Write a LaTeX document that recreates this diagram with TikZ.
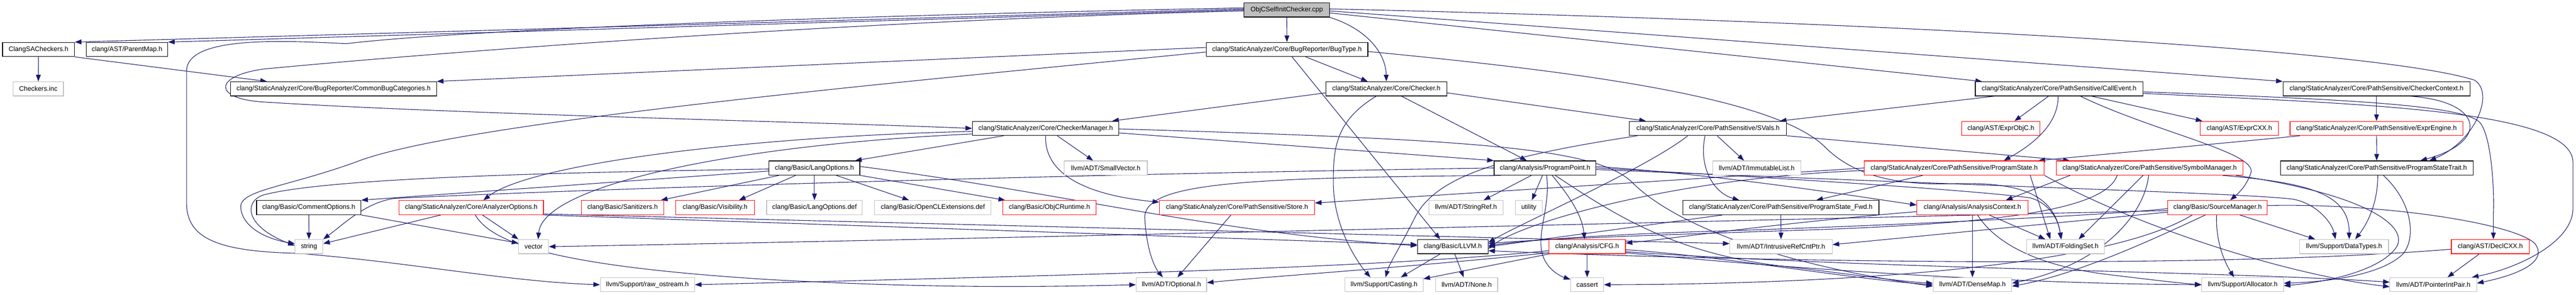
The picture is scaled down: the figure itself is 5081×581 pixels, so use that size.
\documentclass[tikz,border=0pt]{standalone}
\usepackage{fontspec}
\setmainfont{Liberation Sans}
\usetikzlibrary{arrows.meta,backgrounds}
\definecolor{edgec}{HTML}{191970}
\definecolor{grayb}{HTML}{BFBFBF}
\definecolor{rootfill}{HTML}{BFBFBF}
\definecolor{redb}{HTML}{FF0000}
\newcommand\nd[6]{\pgfmathsetmacro\ndw{#3-#2}\pgfmathsetmacro\ndx{(#2+#3)/2}\node[#5, minimum width=\ndw pt] (#1) at (\ndx,#4) {#6};}
\tikzset{
 nbase/.style={rectangle, inner sep=0pt, minimum height=28pt, line width=1.2pt, fill=white, font=\fontsize{13.1pt}{15pt}\selectfont, text=black},
 blk/.style={nbase, draw=black},
 gry/.style={nbase, draw=grayb},
 redst/.style={nbase, draw=redb},
 rootst/.style={nbase, draw=black, fill=rootfill},
 dep/.style={draw=edgec, line width=1.1pt, -{Triangle[length=13pt,width=9.5pt]}},
}
\begin{document}
\begin{tikzpicture}[x=1pt,y=-1pt]
\useasboundingbox (0,0) rectangle (5081,581);
% row 0
\nd{root}{2454}{2622}{19.5}{rootst}{ObjCSelfInitChecker.cpp}
% row 1
\nd{clangsa}{5}{147}{97.5}{blk}{ClangSACheckers.h}
\nd{parentmap}{170}{331}{97.5}{blk}{clang/AST/ParentMap.h}
\nd{bugtype}{2379}{2698}{97.5}{blk}{clang/StaticAnalyzer/Core/BugReporter/BugType.h}
% row 2
\nd{checkersinc}{26}{125}{175}{gry}{Checkers.inc}
\nd{commonbug}{455}{861}{175}{blk}{clang/StaticAnalyzer/Core/BugReporter/CommonBugCategories.h}
\nd{checker}{2615}{2854}{175}{blk}{clang/StaticAnalyzer/Core/Checker.h}
\nd{callevent}{3896}{4227}{175}{blk}{clang/StaticAnalyzer/Core/PathSensitive/CallEvent.h}
\nd{checkerctx}{4503}{4872}{175}{blk}{clang/StaticAnalyzer/Core/PathSensitive/CheckerContext.h}
% row 3
\nd{checkermgr}{1918}{2207}{253}{blk}{clang/StaticAnalyzer/Core/CheckerManager.h}
\nd{svals}{3214}{3524}{253}{blk}{clang/StaticAnalyzer/Core/PathSensitive/SVals.h}
\nd{exprobjc}{3869}{4024}{253}{redst}{clang/AST/ExprObjC.h}
\nd{exprcxx}{4340}{4494}{253}{redst}{clang/AST/ExprCXX.h}
\nd{exprengine}{4517}{4858}{253}{redst}{clang/StaticAnalyzer/Core/PathSensitive/ExprEngine.h}
% row 4
\nd{langopts}{1517}{1696}{331}{blk}{clang/Basic/LangOptions.h}
\nd{smallvec}{2099}{2263}{331}{gry}{llvm/ADT/SmallVector.h}
\nd{progpoint}{2947}{3148}{331}{blk}{clang/Analysis/ProgramPoint.h}
\nd{immlist}{3378}{3552}{331}{gry}{llvm/ADT/ImmutableList.h}
\nd{progstate}{3677}{4032}{331}{redst}{clang/StaticAnalyzer/Core/PathSensitive/ProgramState.h}
\nd{symmgr}{4056}{4424}{331}{redst}{clang/StaticAnalyzer/Core/PathSensitive/SymbolManager.h}
\nd{pstrait}{4498}{4878}{331}{blk}{clang/StaticAnalyzer/Core/PathSensitive/ProgramStateTrait.h}
% row 5
\nd{commentopts}{506}{712}{409}{blk}{clang/Basic/CommentOptions.h}
\nd{anaopts}{787}{1072}{409}{redst}{clang/StaticAnalyzer/Core/AnalyzerOptions.h}
\nd{sanitizers}{1147}{1309}{409}{redst}{clang/Basic/Sanitizers.h}
\nd{visibility}{1333}{1488}{409}{redst}{clang/Basic/Visibility.h}
\nd{langdef}{1512}{1701}{409}{gry}{clang/Basic/LangOptions.def}
\nd{opencl}{1725}{1955}{409}{gry}{clang/Basic/OpenCLExtensions.def}
\nd{objcrt}{1978}{2162}{409}{redst}{clang/Basic/ObjCRuntime.h}
\nd{store}{2287}{2593}{409}{redst}{clang/StaticAnalyzer/Core/PathSensitive/Store.h}
\nd{stringref}{2818}{2965}{409}{gry}{llvm/ADT/StringRef.h}
\nd{utility}{2989}{3042}{409}{gry}{utility}
\nd{psfwd}{3319}{3706}{409}{blk}{clang/StaticAnalyzer/Core/PathSensitive/ProgramState\_Fwd.h}
\nd{anactx}{3781}{4000}{409}{redst}{clang/Analysis/AnalysisContext.h}
\nd{srcmgr}{4276}{4472}{409}{redst}{clang/Basic/SourceManager.h}
% row 6
\nd{string}{582}{637}{486}{gry}{string}
\nd{vector}{1023}{1082}{486}{gry}{vector}
\nd{llvmh}{2796}{2935}{486}{blk}{clang/Basic/LLVM.h}
\nd{cfg}{3055}{3206}{486}{redst}{clang/Analysis/CFG.h}
\nd{intrusive}{3412}{3614}{486}{gry}{llvm/ADT/IntrusiveRefCntPtr.h}
\nd{foldingset}{3997}{4151}{486}{gry}{llvm/ADT/FoldingSet.h}
\nd{datatypes}{4536}{4711}{486}{gry}{llvm/Support/DataTypes.h}
\nd{declcxx}{4835}{4989}{486}{redst}{clang/AST/DeclCXX.h}
% row 7
\nd{rawostream}{1184}{1370}{561}{gry}{llvm/Support/raw\_ostream.h}
\nd{optional}{2241}{2380}{561}{gry}{llvm/ADT/Optional.h}
\nd{casting}{2653}{2807}{561}{gry}{llvm/Support/Casting.h}
\nd{none}{2832}{2954}{561}{gry}{llvm/ADT/None.h}
\nd{cassert}{3098}{3163}{561}{gry}{cassert}
\nd{densemap}{3813}{3968}{561}{gry}{llvm/ADT/DenseMap.h}
\nd{allocator}{4343}{4504}{561}{gry}{llvm/Support/Allocator.h}
\nd{pointerintpair}{4714}{4885}{561}{gry}{llvm/ADT/PointerIntPair.h}

\begin{pgfonlayer}{background}
\fill[white] (0,0) rectangle (5081,581);
% root
\draw[dep] ([yshift=2]root.west) -- (clangsa.north east);
\draw[dep] (root.west) -- (parentmap.north east);
\draw[dep] (root) -- (bugtype);
\draw[dep] (root.south east) .. controls (2690,55) and (2733,100) .. (checker.north);
\draw[dep] ([yshift=-2]root.west) .. controls (1700,40) and (900,100) .. (520,136) .. controls (420,150) and (420,195) .. (520,201) .. controls (900,225) and (1600,240) .. (checkermgr.west);
\draw[dep] ([yshift=4]root.west) .. controls (1600,32) and (900,60) .. (683,86) .. controls (560,80) and (368,70) .. (368,140) -- (368,400) .. controls (368,470) and (430,495) .. (582,499) .. controls (800,515) and (1000,555) .. (rawostream.west);
\draw[dep] ([yshift=-6]root.east) -- ([xshift=14]callevent.north west);
\draw[dep] ([yshift=-2]root.east) -- (checkerctx.north west);
\draw[dep] ([yshift=2]root.east) .. controls (3800,45) and (4700,100) .. (4881,158) .. controls (4922,185) and (4880,280) .. ([xshift=104]pstrait.north);
% ClangSACheckers
\draw[dep] (clangsa) -- (checkersinc);
\draw[dep] (clangsa.south east) -- ([xshift=72]commonbug.north west);
% BugType
\draw[dep] ([yshift=4]bugtype.west) -- (commonbug.north east);
\draw[dep] (bugtype) -- (checker);
\draw[dep] ([xshift=10]bugtype.south) -- ([xshift=-25]llvmh.north);
\draw[dep] ([yshift=-4]bugtype.east) .. controls (3100,140) and (3500,190) .. (3600,290) .. controls (3660,350) and (3750,365) .. (3850,362) .. controls (3980,358) and (4050,380) .. ([xshift=-8]foldingset.north);
\draw[dep] ([yshift=-5]bugtype.west) .. controls (1800,160) and (900,240) .. (700,320) .. controls (560,370) and (470,375) .. (475,410) .. controls (478,445) and (520,470) .. ([yshift=6]string.west);
% Checker
\draw[dep] ([yshift=-8]checker.west) -- ([xshift=-14]checkermgr.north east);
\draw[dep] ([yshift=-8]checker.east) -- ([xshift=33]svals.north west);
\draw[dep] ([xshift=30]checker.south) -- ([xshift=65]progpoint.north west);
\draw[dep] ([xshift=-20]checker.south) .. controls (2630,240) and (2630,300) .. (2630,360) .. controls (2630,450) and (2680,520) .. ([xshift=-27]casting.north);
% CheckerManager
\draw[dep] ([xshift=62]checkermgr.south west) -- ([xshift=-10]langopts.north east);
\draw[dep] ([yshift=-6]checkermgr.west) .. controls (1500,268) and (1050,320) .. ([xshift=24]anaopts.north);
\draw[dep] ([yshift=-11]checkermgr.west) .. controls (1450,285) and (1070,365) .. ([xshift=9]vector.north);
\draw[dep] (checkermgr.south) .. controls (2060,320) and (2100,380) .. ([yshift=-4]store.north west);
\draw[dep] ([xshift=23]checkermgr.south) -- ([xshift=-25]smallvec.north);
\draw[dep] ([yshift=-9]checkermgr.east) -- (progpoint.north west);
\draw[dep] ([yshift=-1]checkermgr.east) .. controls (2900,275) and (3150,290) .. (3220,360) .. controls (3300,440) and (3500,520) .. ([yshift=-3]densemap.west);
% LangOptions
\draw[dep] ([yshift=-6]langopts.west) -- (commentopts.north east);
\draw[dep] ([yshift=-2]langopts.west) .. controls (1100,340) and (650,350) .. (520,384) .. controls (482,396) and (480,445) .. ([yshift=2]string.west);
\draw[dep] ([xshift=20]langopts.south west) -- ([xshift=-6]sanitizers.north east);
\draw[dep] ([xshift=53]langopts.south west) -- ([xshift=-31]visibility.north east);
\draw[dep] (langopts) -- (langdef);
\draw[dep] ([xshift=43]langopts.south) -- ([xshift=-47]opencl.north);
\draw[dep] (langopts.south east) -- ([xshift=5]objcrt.north west);
\draw[dep] ([yshift=3]langopts.east) .. controls (2100,380) and (2400,460) .. ([yshift=2]llvmh.west);
% CommentOptions
\draw[dep] (commentopts) -- (string);
\draw[dep] (commentopts.south east) -- ([yshift=7]vector.west);
% AnalyzerOptions
\draw[dep] ([xshift=-60]anaopts.south) -- ([yshift=6]string.east);
\draw[dep] ([xshift=22]anaopts.south) -- (vector.north west);
\draw[dep] ([xshift=8]anaopts.south) .. controls (970,480) and (1100,525) .. (1520,551) .. controls (1800,566) and (2000,567) .. (optional.west);
\draw[dep] (anaopts.south east) -- ([yshift=4]llvmh.west);
\draw[dep] ([yshift=2]anaopts.south east) -- ([yshift=6]intrusive.west);
% Store
\draw[dep] ([xshift=-12]store.south) -- ([xshift=12]optional.north);
% ProgramPoint
\draw[dep] (progpoint.west) .. controls (2000,345) and (1100,375) .. (777,391) .. controls (720,400) and (680,440) .. (string.north east);
\draw[dep] ([xshift=-87]progpoint.south) .. controls (2450,350) and (2255,360) .. (2258,430) .. controls (2262,500) and (2280,530) .. ([xshift=-17]optional.north);
\draw[dep] ([xshift=-27]progpoint.south) -- ([xshift=35]stringref.north);
\draw[dep] ([xshift=-5]progpoint.south) -- ([xshift=6]utility.north);
\draw[dep] ([xshift=3]progpoint.south) .. controls (3058,400) and (3035,450) .. (3040,490) .. controls (3045,530) and (3080,545) .. ([yshift=-4]cassert.north west);
\draw[dep] ([xshift=14]progpoint.south) .. controls (3090,380) and (3120,420) .. ([xshift=-5]cfg.north);
\draw[dep] ([xshift=20]progpoint.south) .. controls (3180,420) and (3300,500) .. (3520,525) .. controls (3650,540) and (3750,555) .. ([yshift=3]densemap.west);
\draw[dep] ([yshift=3]progpoint.east) .. controls (3400,345) and (3650,385) .. ([yshift=5]anactx.west);
\draw[dep] (progpoint.east) .. controls (3500,350) and (3900,375) .. (4005,390) .. controls (4040,400) and (4060,430) .. ([xshift=-9]foldingset.north);
\draw[dep] ([yshift=-3]progpoint.east) .. controls (4000,370) and (4400,380) .. (4520,392) .. controls (4570,400) and (4600,440) .. ([xshift=-17]datatypes.north);
% SVals
\draw[dep] ([xshift=18]svals.south) -- ([xshift=-25]immlist.north);
\draw[dep] ([xshift=-6]svals.south) .. controls (3350,330) and (3380,380) .. ([xshift=-82]psfwd.north);
\draw[dep] ([xshift=16]svals.south west) .. controls (2950,310) and (2830,350) .. (2790,430) .. controls (2760,490) and (2740,520) .. ([xshift=3]casting.north);
\draw[dep] (svals.south east) -- ([xshift=27]symmgr.north west);
\draw[dep] ([xshift=-40]svals.south) .. controls (3250,330) and (3000,440) .. ([yshift=8]llvmh.east);
% ProgramState_Fwd
\draw[dep] (psfwd) -- (intrusive);
\draw[dep] ([xshift=-115]psfwd.south) -- (llvmh.east);
% CallEvent
\draw[dep] ([xshift=-128]callevent.south) -- ([xshift=-14]svals.north east);
\draw[dep] ([xshift=-21]callevent.south) -- ([xshift=27]exprobjc.north);
\draw[dep] ([xshift=-2]callevent.south) .. controls (4060,250) and (4000,290) .. ([xshift=98]progstate.north);
\draw[dep] ([xshift=64]callevent.south) -- ([xshift=-73]exprcxx.north);
\draw[dep] ([xshift=42]callevent.south) .. controls (4250,260) and (4450,300) .. (4440,340) .. controls (4430,370) and (4410,385) .. ([xshift=25]srcmgr.north);
\draw[dep] ([yshift=-6]callevent.east) .. controls (4600,195) and (4850,205) .. (4890,240) .. controls (4915,265) and (4920,380) .. (4918,420) -- ([xshift=6]declcxx.north);
\draw[dep] ([yshift=-9]callevent.east) .. controls (4650,205) and (5075,215) .. (5075,320) -- (5075,410) .. controls (5075,480) and (4960,530) .. ([xshift=-10]pointerintpair.north east);
% CheckerContext
\draw[dep] (checkerctx) -- (exprengine);
\draw[dep] ([xshift=67]checkerctx.south) .. controls (4900,200) and (4910,280) .. ([xshift=86]pstrait.north);
% ExprEngine
\draw[dep] (exprengine) -- (pstrait);
\draw[dep] ([xshift=20]exprengine.south west) -- ([xshift=-12]progstate.north east);
% ProgramState
\draw[dep] (progstate.west) -- ([yshift=9]store.east);
\draw[dep] ([xshift=-62]progstate.south) -- ([xshift=70]psfwd.north);
\draw[dep] ([yshift=-5]progstate.west) .. controls (3300,350) and (3000,440) .. ([yshift=-4]llvmh.east);
\draw[dep] ([xshift=150]progstate.south) -- ([xshift=-30]foldingset.north);
\draw[dep] (progstate.south east) .. controls (4200,440) and (4500,540) .. ([yshift=-4]pointerintpair.west);
% SymbolManager
\draw[dep] ([xshift=-13]symmgr.south) -- ([xshift=26]foldingset.north);
\draw[dep] ([xshift=-2]symmgr.south) .. controls (4230,420) and (4150,520) .. ([yshift=3]densemap.east);
\draw[dep] ([xshift=144]symmgr.south) .. controls (4550,360) and (4634,380) .. ([xshift=10]datatypes.north);
\draw[dep] ([xshift=-64]symmgr.south) .. controls (4150,420) and (3900,440) .. (3600,452) .. controls (3300,462) and (3050,470) .. ([yshift=6]llvmh.east);
\draw[dep] ([xshift=-157]symmgr.south) -- ([xshift=66]anactx.north);
\draw[dep] ([xshift=170]symmgr.south) .. controls (4650,380) and (4750,440) .. (4728,485) .. controls (4700,530) and (4600,555) .. ([yshift=-2]allocator.east);
% AnalysisContext
\draw[dep] (anactx) -- (densemap);
\draw[dep] ([yshift=-8]anactx.west) .. controls (3500,440) and (3300,470) .. ([yshift=7]cfg.east);
\draw[dep] ([xshift=33]anactx.south) -- ([xshift=-40]foldingset.north);
\draw[dep] ([xshift=10]anactx.south) .. controls (3930,470) and (4000,520) .. (4150,540) .. controls (4250,552) and (4300,558) .. (allocator.west);
% SourceManager
\draw[dep] ([yshift=-2]srcmgr.west) .. controls (4150,425) and (3700,445) .. (3400,455) .. controls (3150,462) and (3000,475) .. ([yshift=2]llvmh.east);
\draw[dep] ([yshift=-6]srcmgr.west) .. controls (3600,430) and (2000,470) .. (vector.east);
\draw[dep] ([yshift=-9]srcmgr.west) -- ([yshift=4]intrusive.east);
\draw[dep] ([xshift=-24]srcmgr.south) .. controls (4250,470) and (4100,540) .. ([yshift=-3]densemap.east);
\draw[dep] ([xshift=-2]srcmgr.south) .. controls (4370,480) and (4390,520) .. ([xshift=-17]allocator.north);
\draw[dep] ([xshift=44]srcmgr.south) -- ([xshift=-57]datatypes.north);
\draw[dep] ([yshift=4]srcmgr.east) .. controls (4700,400) and (4960,440) .. (5000,480) .. controls (5030,520) and (4950,545) .. ([yshift=3]pointerintpair.east);
\draw[dep] ([xshift=-50]srcmgr.south) .. controls (4150,530) and (3600,560) .. (cassert.east);
% ProgramStateTrait
\draw[dep] ([xshift=2]pstrait.south) .. controls (4690,400) and (4670,440) .. ([xshift=22]datatypes.north);
\draw[dep] ([xshift=13]pstrait.south) .. controls (4760,400) and (4765,470) .. (4740,500) .. controls (4700,540) and (4600,555) .. ([yshift=3]allocator.east);
% DeclCXX
\draw[dep] ([xshift=-22]declcxx.south) -- ([xshift=28]pointerintpair.north);
\draw[dep] ([yshift=-5]declcxx.west) .. controls (4300,535) and (3300,510) .. ([yshift=-8]llvmh.east);
% CFG
\draw[dep] (cfg) -- (cassert);
\draw[dep] ([yshift=-8]cfg.west) .. controls (2700,530) and (2000,545) .. (rawostream.east);
\draw[dep] ([yshift=-12]cfg.west) .. controls (2800,525) and (2500,545) .. ([yshift=4]optional.east);
\draw[dep] (cfg.south west) -- ([yshift=-3]casting.north east);
\draw[dep] ([yshift=-6]cfg.east) .. controls (3400,505) and (3650,550) .. (densemap.west);
\draw[dep] ([yshift=-10]cfg.east) .. controls (3700,530) and (4400,535) .. ([yshift=5]pointerintpair.west);
\draw[dep] ([yshift=-12]cfg.east) .. controls (3700,545) and (4100,560) .. (allocator.west);
% LLVM.h
\draw[dep] ([xshift=-25]llvmh.south) -- ([xshift=33]casting.north);
\draw[dep] ([xshift=4]llvmh.south) -- ([xshift=-6]none.north);
\end{pgfonlayer}
\end{tikzpicture}
\end{document}
